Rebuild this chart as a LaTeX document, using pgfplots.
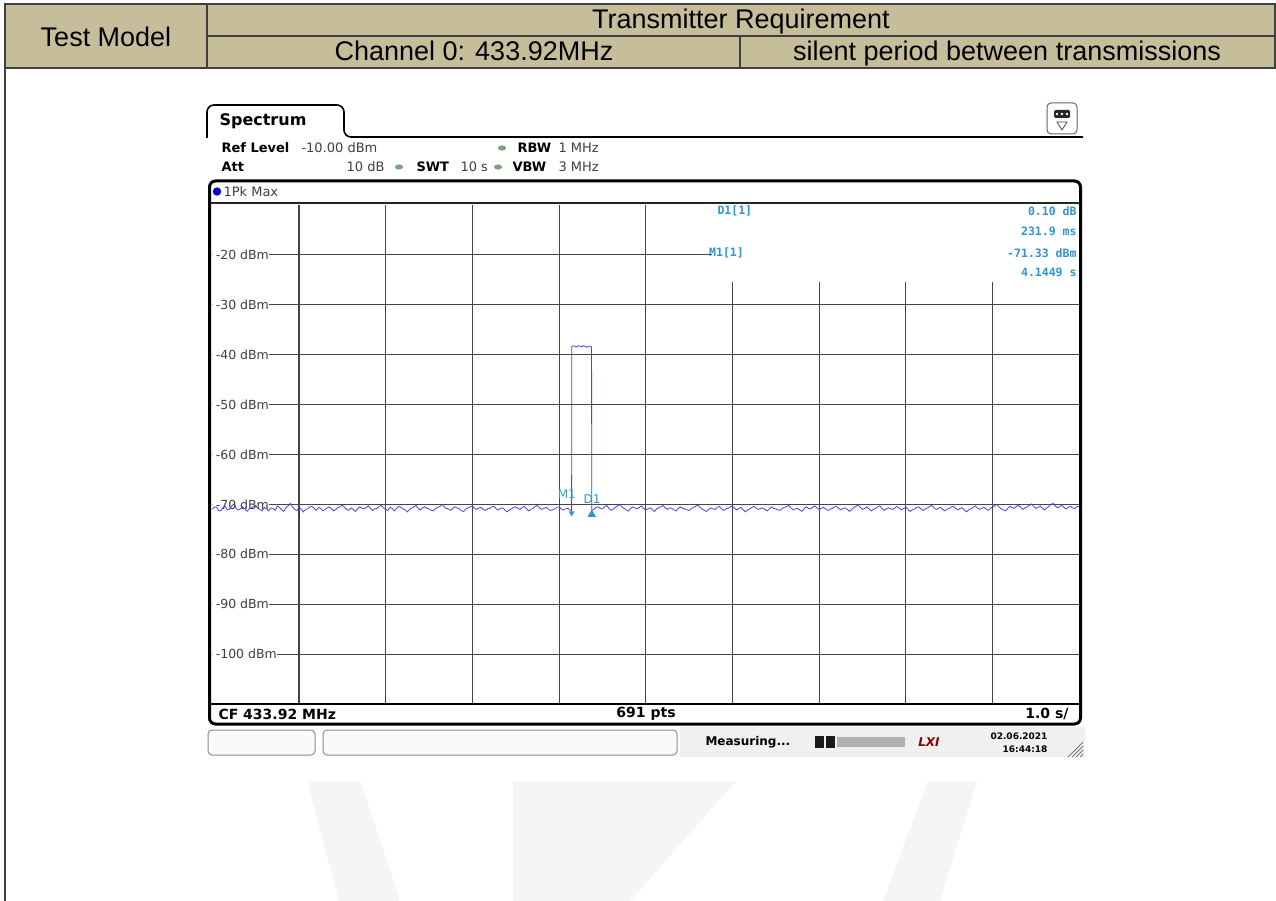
\documentclass[border=0pt]{standalone}
\usepackage{pgfplots}
\usepackage{pgfplotstable}
\pgfplotsset{compat=1.18}
\usepackage{fontspec}
\setmainfont{DejaVu Sans}
\newfontfamily\hdr{Liberation Sans}
\newfontfamily\mono{DejaVu Sans Mono}
\definecolor{tanhdr}{HTML}{C6BE9B}
\definecolor{trace}{HTML}{4444E6}
\definecolor{mk}{HTML}{2E94D6}
\definecolor{mklab}{HTML}{3AA0B8}
\definecolor{gridc}{HTML}{454545}
\definecolor{dotg}{HTML}{7E9E80}
\newcommand\fs[1]{\fontsize{#1}{#1}\selectfont}
\tikzset{ylab/.style={anchor=west, fill=white, inner xsep=0pt, inner ysep=1pt, outer sep=0pt, font=\fs{12.5}, text=black!75, xshift=-1.5pt}}
\pgfplotstableread{
x y
0.000 -71.0
0.025 -70.5
0.050 -70.6
0.075 -71.3
0.100 -71.2
0.125 -70.6
0.150 -70.4
0.175 -71.1
0.200 -70.9
0.225 -70.3
0.250 -69.9
0.275 -70.8
0.300 -71.1
0.325 -70.9
0.350 -70.5
0.375 -70.9
0.400 -71.4
0.425 -70.9
0.450 -70.7
0.475 -70.4
0.500 -70.2
0.525 -70.8
0.550 -71.0
0.575 -71.3
0.600 -70.6
0.625 -70.9
0.650 -71.3
0.675 -70.7
0.700 -70.8
0.725 -71.2
0.750 -70.3
0.775 -70.6
0.800 -71.1
0.825 -71.4
0.850 -70.6
0.875 -70.3
0.900 -69.8
0.925 -70.5
0.950 -71.0
0.975 -71.2
1.000 -70.7
1.025 -70.9
1.050 -71.5
1.075 -71.0
1.100 -70.9
1.125 -70.5
1.150 -70.4
1.175 -70.8
1.200 -71.2
1.225 -70.6
1.250 -70.8
1.275 -71.3
1.300 -71.0
1.325 -70.7
1.350 -70.5
1.375 -70.9
1.400 -71.3
1.425 -71.0
1.450 -70.6
1.475 -70.5
1.500 -70.1
1.525 -70.6
1.550 -71.0
1.575 -71.2
1.600 -70.7
1.625 -71.0
1.650 -71.4
1.675 -70.9
1.700 -70.5
1.725 -70.7
1.750 -70.9
1.775 -70.6
1.800 -70.3
1.825 -70.8
1.850 -71.2
1.875 -70.9
1.900 -70.8
1.925 -70.4
1.950 -70.2
1.975 -70.7
2.000 -71.0
2.025 -71.2
2.050 -70.6
2.075 -70.8
2.100 -71.3
2.125 -70.8
2.150 -70.4
2.175 -70.6
2.200 -70.9
2.225 -71.1
2.250 -71.5
2.275 -71.0
2.300 -70.7
2.325 -70.5
2.350 -70.2
2.375 -70.8
2.400 -71.1
2.425 -70.7
2.450 -70.5
2.475 -70.8
2.500 -70.9
2.525 -71.2
2.550 -71.3
2.575 -70.8
2.600 -70.6
2.625 -70.4
2.650 -70.0
2.675 -70.5
2.700 -70.8
2.725 -70.9
2.750 -71.2
2.775 -70.8
2.800 -70.5
2.825 -70.7
2.850 -70.9
2.875 -71.3
2.900 -71.4
2.925 -70.9
2.950 -70.7
2.975 -70.5
3.000 -70.3
3.025 -70.8
3.050 -71.0
3.075 -70.7
3.100 -70.6
3.125 -71.0
3.150 -71.2
3.175 -70.9
3.200 -70.8
3.225 -70.5
3.250 -70.4
3.275 -70.9
3.300 -71.1
3.325 -70.8
3.350 -70.7
3.375 -71.1
3.400 -71.5
3.425 -71.1
3.450 -70.9
3.475 -70.6
3.500 -70.5
3.525 -70.8
3.550 -71.0
3.575 -70.6
3.600 -70.4
3.625 -70.9
3.650 -71.3
3.675 -71.0
3.700 -70.8
3.725 -70.4
3.750 -70.2
3.775 -70.7
3.800 -71.0
3.825 -70.8
3.850 -70.6
3.875 -70.9
3.900 -71.2
3.925 -71.1
3.950 -70.9
3.975 -70.6
4.000 -70.5
4.025 -70.9
4.050 -71.1
4.075 -70.9
4.100 -70.8
4.125 -71.1
4.1449 -71.33
4.146 -38.4
4.16 -38.2
4.18 -38.3
4.20 -38.5
4.22 -38.2
4.24 -38.3
4.26 -38.4
4.28 -38.2
4.30 -38.3
4.32 -38.5
4.34 -38.3
4.36 -38.4
4.375 -38.4
4.3768 -71.23
4.400 -71.0
4.425 -70.6
4.450 -70.5
4.475 -70.8
4.500 -70.9
4.525 -70.5
4.550 -70.2
4.575 -70.8
4.600 -71.2
4.625 -70.9
4.650 -70.6
4.675 -70.3
4.700 -70.0
4.725 -70.5
4.750 -70.8
4.775 -71.1
4.800 -71.3
4.825 -70.8
4.850 -70.5
4.875 -70.7
4.900 -70.9
4.925 -70.6
4.950 -70.3
4.975 -70.8
5.000 -71.1
5.025 -70.9
5.050 -70.7
5.075 -71.0
5.100 -71.4
5.125 -70.9
5.150 -70.6
5.175 -70.5
5.200 -70.2
5.225 -70.7
5.250 -71.0
5.275 -70.7
5.300 -70.8
5.325 -71.1
5.350 -71.3
5.375 -70.8
5.400 -70.5
5.425 -70.8
5.450 -70.9
5.475 -71.1
5.500 -71.2
5.525 -70.8
5.550 -70.6
5.575 -70.4
5.600 -70.1
5.625 -70.6
5.650 -70.9
5.675 -71.2
5.700 -71.4
5.725 -71.0
5.750 -70.7
5.775 -70.9
5.800 -71.0
5.825 -70.6
5.850 -70.4
5.875 -70.9
5.900 -71.2
5.925 -70.9
5.950 -70.8
5.975 -70.5
6.000 -70.3
6.025 -70.8
6.050 -71.1
6.075 -70.8
6.100 -70.6
6.125 -71.1
6.150 -71.5
6.175 -71.1
6.200 -70.9
6.225 -70.6
6.250 -70.4
6.275 -70.8
6.300 -71.0
6.325 -70.8
6.350 -70.7
6.375 -71.0
6.400 -71.3
6.425 -70.9
6.450 -70.5
6.475 -70.8
6.500 -70.9
6.525 -71.1
6.550 -71.2
6.575 -70.8
6.600 -70.6
6.625 -70.4
6.650 -70.2
6.675 -70.7
6.700 -71.1
6.725 -70.9
6.750 -70.8
6.775 -71.1
6.800 -71.4
6.825 -70.9
6.850 -70.5
6.875 -70.8
6.900 -70.9
6.925 -70.6
6.950 -70.3
6.975 -70.7
7.000 -71.0
7.025 -70.8
7.050 -70.6
7.075 -70.9
7.100 -71.2
7.125 -71.0
7.150 -70.8
7.175 -70.5
7.200 -70.4
7.225 -70.8
7.250 -71.1
7.275 -70.8
7.300 -70.7
7.325 -71.0
7.350 -71.4
7.375 -71.0
7.400 -70.6
7.425 -70.4
7.450 -70.1
7.475 -70.6
7.500 -71.0
7.525 -70.8
7.550 -70.5
7.575 -70.9
7.600 -71.3
7.625 -71.0
7.650 -70.8
7.675 -70.5
7.700 -70.3
7.725 -70.8
7.750 -71.2
7.775 -70.9
7.800 -70.7
7.825 -70.9
7.850 -71.0
7.875 -70.7
7.900 -70.4
7.925 -70.8
7.950 -71.1
7.975 -70.8
8.000 -70.6
8.025 -71.0
8.050 -71.4
8.075 -71.1
8.100 -70.9
8.125 -70.6
8.150 -70.5
8.175 -70.9
8.200 -71.2
8.225 -70.9
8.250 -70.7
8.275 -70.4
8.300 -70.2
8.325 -70.7
8.350 -71.0
8.375 -70.8
8.400 -70.6
8.425 -71.0
8.450 -71.3
8.475 -71.0
8.500 -70.8
8.525 -70.5
8.550 -70.4
8.575 -70.8
8.600 -71.1
8.625 -70.8
8.650 -70.7
8.675 -71.1
8.700 -71.5
8.725 -71.1
8.750 -70.9
8.775 -70.6
8.800 -70.3
8.825 -70.7
8.850 -71.0
8.875 -70.8
8.900 -70.6
8.925 -70.9
8.950 -71.2
8.975 -70.8
9.000 -70.5
9.025 -70.3
9.050 -70.0
9.075 -70.5
9.100 -70.9
9.125 -71.1
9.150 -71.3
9.175 -70.8
9.200 -70.4
9.225 -70.6
9.250 -70.8
9.275 -70.4
9.300 -70.1
9.325 -70.6
9.350 -71.0
9.375 -70.7
9.400 -70.5
9.425 -70.2
9.450 -69.9
9.475 -70.4
9.500 -70.8
9.525 -70.6
9.550 -70.3
9.575 -70.8
9.600 -71.1
9.625 -70.7
9.650 -70.4
9.675 -70.0
9.700 -69.8
9.725 -70.3
9.750 -70.7
9.775 -70.4
9.800 -70.2
9.825 -70.6
9.850 -70.9
9.875 -70.6
9.900 -70.4
9.925 -70.7
9.950 -70.8
9.975 -70.4
10.000 -70.5
}\tracedata

\begin{document}
\begin{tikzpicture}
\begin{scope}[x=1pt,y=1pt]
\path[use as bounding box, fill=white] (0,0) rectangle (1276,-901);
% watermark
\fill[black!4] (307,-781) -- (360,-781) -- (400,-901) -- (339,-901) -- cycle;
\fill[black!4] (513,-781) -- (736,-781) -- (630,-901) -- (513,-901) -- cycle;
\fill[black!4] (928,-781) -- (977,-781) -- (940,-901) -- (883,-901) -- cycle;
% header table
\fill[tanhdr] (5,-4) rectangle (1275,-68);
\draw[black!75, line width=1.3pt] (5,-4) rectangle (1275,-68);
\draw[black!75, line width=1.1pt] (207,-4) -- (207,-68);
\draw[black!75, line width=1.1pt] (207,-36) -- (1275,-36);
\draw[black!75, line width=1.1pt] (740,-36) -- (740,-68);
\draw[black!75, line width=1.3pt] (5,-68) -- (5,-901);
\node[font=\hdr\fs{27}, anchor=base] at (106,-47) {Test Model};
\node[font=\hdr\fs{27}, anchor=base] at (741,-29) {Transmitter Requirement};
\node[font=\hdr\fs{27}, anchor=base] at (474,-60.5) {Channel 0: 433.92MHz};
\node[font=\hdr\fs{27}, anchor=base] at (1007,-60.5) {silent period between transmissions};

% Spectrum tab
\draw[line width=1.6pt] (207,-138) -- (207,-112) arc (180:90:7) -- (337,-105) arc (90:0:7) -- (344,-130) arc (180:270:7) -- (1083,-137);
\node[anchor=west, font=\bfseries\fs{16}] at (216,-121) {Spectrum};
% icon
\draw[rounded corners=4pt, black!60, line width=1pt, fill=white] (1047,-103) rectangle (1077,-134);
\fill[rounded corners=1.5pt, black!85] (1054,-110) rectangle (1070,-118);
\fill[white] (1057,-114) circle (1.4) (1062,-114) circle (1.4) (1067,-114) circle (1.4);
\draw[black!70, line width=0.8pt] (1057,-122) -- (1067,-122) -- (1062,-130) -- cycle;

% settings rows
\node[anchor=west, font=\bfseries\fs{13}] at (218,-148) {Ref Level};
\node[anchor=west, font=\fs{13}, text=black!75] at (298,-148) {-10.00 dBm};
\fill[dotg] (502,-148) ellipse (4 and 2.6);
\node[anchor=west, font=\bfseries\fs{13}] at (514,-148) {RBW};
\node[anchor=west, font=\fs{13}, text=black!75] at (555,-148) {1 MHz};
\node[anchor=west, font=\bfseries\fs{13}] at (218,-167) {Att};
\node[anchor=east, font=\fs{13}, text=black!75] at (388,-167) {10 dB};
\fill[dotg] (399,-167) ellipse (4 and 2.6);
\node[anchor=west, font=\bfseries\fs{13}] at (413,-167) {SWT};
\node[anchor=west, font=\fs{13}, text=black!75] at (457,-167) {10 s};
\fill[dotg] (498,-167) ellipse (4 and 2.6);
\node[anchor=west, font=\bfseries\fs{13}] at (509,-167) {VBW};
\node[anchor=west, font=\fs{13}, text=black!75] at (555,-167) {3 MHz};

% trace header row
\fill[blue!80!black] (217,-191.5) circle (4.2);
\node[anchor=west, font=\fs{13}, text=black!75] at (220,-191.5) {1Pk Max};
\end{scope}

\begin{axis}[
  at={(212.3pt,-704pt)}, anchor=south west,
  scale only axis, width=866.9pt, height=499pt,
  xmin=0, xmax=10, ymin=-110, ymax=-10,
  xtick={1,2,...,9}, ytick={-100,-90,...,-20},
  xticklabels={}, yticklabels={},
  major tick length=0pt,
  grid=major,
  major grid style={gridc, line width=1.1pt},
  axis line style={draw=none},
  clip=true,
]
\fill[white] (axis cs:5.015,-9) rectangle (axis cs:10.1,-25.4);
\draw[gridc, line width=1.1pt] (axis cs:5,-20) -- (axis cs:5.76,-20);
\node[ylab] at (axis cs:0,-20) {\hspace{5pt}-20 dBm\hspace{1.5pt}};
\node[ylab] at (axis cs:0,-30) {\hspace{5pt}-30 dBm\hspace{1.5pt}};
\node[ylab] at (axis cs:0,-40) {\hspace{5pt}-40 dBm\hspace{1.5pt}};
\node[ylab] at (axis cs:0,-50) {\hspace{5pt}-50 dBm\hspace{1.5pt}};
\node[ylab] at (axis cs:0,-60) {\hspace{5pt}-60 dBm\hspace{1.5pt}};
\node[ylab] at (axis cs:0,-70) {\hspace{5pt}-70 dBm\hspace{1.5pt}};
\node[ylab] at (axis cs:0,-80) {\hspace{5pt}-80 dBm\hspace{1.5pt}};
\node[ylab] at (axis cs:0,-90) {\hspace{5pt}-90 dBm\hspace{1.5pt}};
\node[ylab] at (axis cs:0,-100) {\hspace{5pt}-100 dBm\hspace{1.5pt}};
\addplot[trace, line width=0.8pt] table[x=x, y=y] {\tracedata};
% markers
\addplot[only marks, mark=triangle*, mark size=3pt, mark options={rotate=180, fill=mk, draw=mk, yshift=2pt}] coordinates {(4.1449,-71.33)};
\addplot[only marks, mark=triangle*, mark size=4.5pt, mark options={fill=mk, draw=mk, yshift=-4pt}] coordinates {(4.3768,-71.23)};
\node[font=\fs{12}, text=mklab] at (axis cs:4.09,-67.9) {M1};
\node[font=\fs{12}, text=mk] at (axis cs:4.38,-69.0) {D1};
\end{axis}

\begin{scope}[x=1pt,y=1pt]
% frame
\draw[black!85, line width=1.3pt] (210,-203) -- (1080,-203);
\draw[black, line width=2pt] (210,-704) -- (1080,-704);
\draw[black, line width=3pt, rounded corners=6pt] (209.5,-181) rectangle (1080.5,-724);

% marker info
\node[anchor=west, font=\mono\bfseries\fs{11.5}, text=mk] at (714,-211) {D1[1]};
\node[anchor=east, font=\mono\bfseries\fs{11.5}, text=mk] at (1080,-211) {0.10 dB};
\node[anchor=east, font=\mono\bfseries\fs{11.5}, text=mk] at (1080,-231) {231.9 ms};
\node[anchor=west, font=\mono\bfseries\fs{11.5}, text=mk, inner sep=1pt] at (708,-253) {M1[1]};
\node[anchor=east, font=\mono\bfseries\fs{11.5}, text=mk] at (1080,-253) {-71.33 dBm};
\node[anchor=east, font=\mono\bfseries\fs{11.5}, text=mk] at (1080,-272) {4.1449 s};

% footer
\node[anchor=west, font=\bfseries\fs{14}] at (215,-714) {CF 433.92 MHz};
\node[font=\bfseries\fs{14}] at (646,-714) {691 pts};
\node[anchor=east, font=\bfseries\fs{14}] at (1072,-714) {1.0 s/};

% status bar
\fill[black!6] (680,-727) rectangle (1085,-757);
\draw[rounded corners=4pt, black!45, fill=black!2, line width=1pt] (208,-730) rectangle (315,-755);
\draw[rounded corners=4pt, black!45, fill=black!2, line width=1pt] (323,-730) rectangle (677,-755);
\node[anchor=west, font=\bfseries\fs{12}] at (702,-742) {Measuring...};
\fill[black!90] (815,-736) rectangle (824,-748);
\fill[black!90] (826,-736) rectangle (835,-748);
\fill[black!30] (837,-737) rectangle (905,-747);
\node[font=\bfseries\itshape\fs{12}, text=red!55!black] at (929,-742) {LXI};
\node[anchor=east, font=\bfseries\fs{9}] at (1051,-736) {02.06.2021};
\node[anchor=east, font=\bfseries\fs{9}] at (1051,-749) {16:44:18};
\draw[black!60, line width=0.7pt] (1068,-757) -- (1083,-742);
\draw[black!60, line width=0.7pt] (1072,-757) -- (1083,-746);
\draw[black!60, line width=0.7pt] (1076,-757) -- (1083,-750);
\draw[black!60, line width=0.7pt] (1080,-757) -- (1083,-754);
\end{scope}
\end{tikzpicture}
\end{document}
